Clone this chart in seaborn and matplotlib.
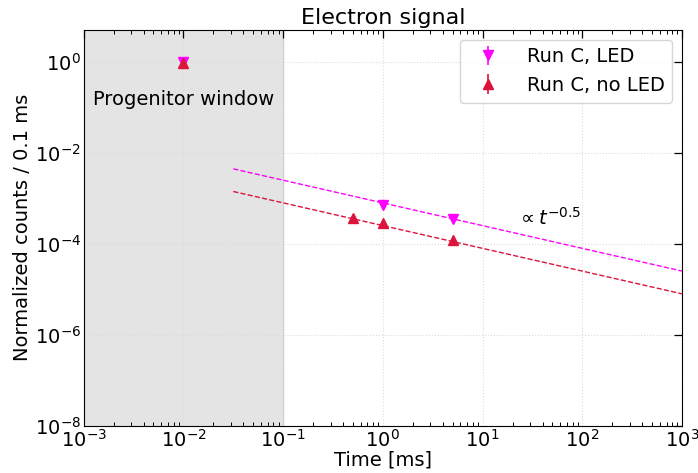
import numpy as np
import pandas as pd
import matplotlib
matplotlib.use('Agg')
import matplotlib.pyplot as plt
import seaborn as sns

# data
time_led = [0.01, 1.0, 5.0]
counts_led = [1.0, 7.0e-4, 3.4e-4]
err_led = [0.05, 3e-5, 2e-5]

time_noled = [0.01, 0.5, 1.0, 5.0]
counts_noled = [0.95, 3.6e-4, 2.8e-4, 1.2e-4]
err_noled = [0.05, 2e-5, 2e-5, 1e-5]

# fitted power-law lines (end points)
fit_x = [0.0316, 1000.0]
fit_led_y = [4.4e-3, 2.5e-5]
fit_noled_y = [1.4e-3, 7.9e-6]

sns.set_theme(style='white')
plt.rcParams['font.family'] = ['DejaVu Sans']
plt.rcParams.update({'text.color': 'black', 'axes.labelcolor': 'black',
                     'xtick.color': 'black', 'ytick.color': 'black'})

fig, ax = plt.subplots(figsize=(6.98, 4.73), dpi=100)

ax.axvspan(1e-3, 1e-1, color='#e4e4e4', zorder=0)
ax.axvline(1e-1, color='#c8c8c8', lw=0.8, zorder=0.5)

sns.lineplot(x=fit_x, y=fit_led_y, ax=ax, color='magenta', ls='--', lw=1.0, zorder=2)
sns.lineplot(x=fit_x, y=fit_noled_y, ax=ax, color='crimson', ls='--', lw=1.0, zorder=2)

ax.errorbar(time_led, counts_led, yerr=err_led, fmt='v', color='magenta',
            ms=7, elinewidth=1.2, capsize=0, label='Run C, LED', zorder=3)
ax.errorbar(time_noled, counts_noled, yerr=err_noled, fmt='^', color='crimson',
            ms=7, elinewidth=1.2, capsize=0, label='Run C, no LED', zorder=3)

ax.set_xscale('log')
ax.set_yscale('log')
ax.set_xlim(1e-3, 1e3)
ax.set_ylim(1e-8, 5)
ax.set_yticks([1e-8, 1e-6, 1e-4, 1e-2, 1e0])
ax.yaxis.set_minor_locator(matplotlib.ticker.NullLocator())
ax.xaxis.set_major_locator(matplotlib.ticker.LogLocator(base=10, numticks=20))
ax.xaxis.set_minor_locator(matplotlib.ticker.LogLocator(base=10, subs=np.arange(2, 10), numticks=20))

ax.grid(True, which='major', color='#dcdcdc', ls=':', lw=0.8)
ax.tick_params(which='both', direction='in', top=True, right=True, labelsize=14, pad=2)
ax.tick_params(which='major', length=6, width=0.9)
ax.tick_params(which='minor', length=3, width=0.7, bottom=True, top=True)
for s in ax.spines.values():
    s.set_color('black')
    s.set_linewidth(0.8)

ax.text(1.25e-3, 0.11, 'Progenitor window', fontsize=14)
ax.text(22, 3.6e-4, r'$\propto t^{-0.5}$', fontsize=14, va='center')

ax.set_title('Electron signal', fontsize=16, pad=4)
ax.set_xlabel('Time [ms]', fontsize=14, labelpad=0)
ax.set_ylabel('Normalized counts / 0.1 ms', fontsize=14, labelpad=2)
ax.legend(loc='upper right', fontsize=14, frameon=True, handletextpad=1.0,
          borderaxespad=0.5)

fig.subplots_adjust(left=0.12, right=0.977, top=0.937, bottom=0.1)
fig.savefig('out.png', dpi=100)
